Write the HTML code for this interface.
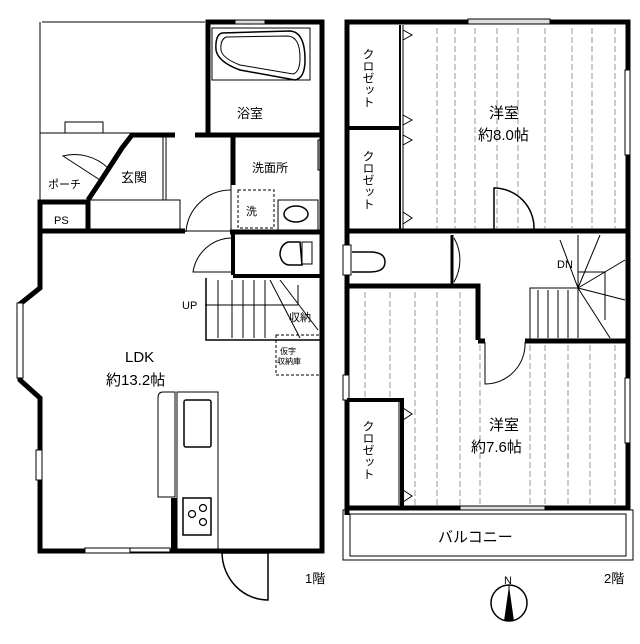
<!DOCTYPE html>
<html><head><meta charset="utf-8"><style>
html,body{margin:0;padding:0;background:#fff;}
svg{display:block;font-family:"Liberation Sans","Noto Sans CJK JP",sans-serif;}
</style></head><body>
<svg width="640" height="644" viewBox="0 0 640 644" xmlns="http://www.w3.org/2000/svg">
<rect width="640" height="644" fill="#fff"/>
<g stroke="#999" stroke-width="1" stroke-dasharray="6,3">
<line x1="437" y1="28" x2="437" y2="228"/><line x1="455" y1="28" x2="455" y2="228"/><line x1="475" y1="28" x2="475" y2="228"/>
<line x1="497" y1="28" x2="497" y2="228"/><line x1="518" y1="28" x2="518" y2="228"/><line x1="545" y1="28" x2="545" y2="228"/>
<line x1="572" y1="28" x2="572" y2="228"/><line x1="592" y1="28" x2="592" y2="228"/><line x1="615" y1="28" x2="615" y2="228"/>
<line x1="365" y1="292" x2="365" y2="400"/><line x1="390" y1="292" x2="390" y2="400"/><line x1="415" y1="292" x2="415" y2="505"/>
<line x1="437" y1="292" x2="437" y2="505"/><line x1="460" y1="292" x2="460" y2="505"/><line x1="480" y1="345" x2="480" y2="505"/>
<line x1="530" y1="345" x2="530" y2="505"/><line x1="545" y1="345" x2="545" y2="505"/><line x1="568" y1="345" x2="568" y2="505"/>
<line x1="590" y1="345" x2="590" y2="505"/><line x1="615" y1="345" x2="615" y2="505"/>
</g>
<g fill="none" stroke="#000">
<line x1="42" y1="22" x2="205" y2="22" stroke-width="1"/>
<line x1="40" y1="22" x2="40" y2="200" stroke-width="1"/>
<line x1="40" y1="133" x2="130" y2="133" stroke-width="1"/>
<rect x="65" y="122" width="38" height="11" stroke-width="1"/>
<path d="M208 135 V22 H235 M265 22 H322 V135" stroke-width="5"/>
<rect x="235" y="20" width="30" height="4" stroke-width="1" fill="#ddd"/>
<rect x="212" y="28" width="98" height="52" stroke-width="1"/>
<path d="M222 33 Q215 35 216 50 Q218 62 240 70 L295 80 Q305 78 305 60 Q305 32 290 31 Z" stroke-width="1.5"/>
<path d="M226 37 Q220 40 221 50 Q222 58 240 65 L293 74 Q300 72 300 58 Q300 37 288 36 Z" stroke-width="1"/>
<path d="M130 135 H175 M195 135 H320" stroke-width="5"/>
<line x1="272" y1="137" x2="318" y2="137" stroke-width="1"/>
<path d="M132 135 L122 148 L100 182 L88 200" stroke-width="5"/>
<path d="M108 168 A48 48 0 0 0 63 156 L100 180" stroke-width="1"/>
<path d="M40 232 V202 H88 V232" stroke-width="5"/>
<path d="M38 231 H185" stroke-width="5"/>
<path d="M185 231 H230" stroke-width="1"/>
<path d="M230 232 H322" stroke-width="5"/>
<line x1="163" y1="137" x2="163" y2="200" stroke-width="1"/>
<line x1="166" y1="137" x2="166" y2="200" stroke-width="1"/>
<path d="M90 200 H180 V230" stroke-width="1"/>
<line x1="233" y1="135" x2="233" y2="185" stroke-width="5"/>
<line x1="231" y1="185" x2="231" y2="232" stroke-width="1"/>
<path d="M231 190 A45 45 0 0 0 186 232" stroke-width="1"/>
<rect x="238" y="190" width="36" height="38" stroke-width="1" stroke-dasharray="3,2"/>
<rect x="278" y="200" width="40" height="30" stroke-width="1"/>
<ellipse cx="296" cy="214" rx="12" ry="8" stroke-width="1.5"/>
<rect x="318" y="140" width="6" height="30" stroke-width="1" fill="#ccc"/>
<line x1="233" y1="234" x2="233" y2="275" stroke-width="4"/>
<path d="M231 238 A40 40 0 0 0 193 272 H231" stroke-width="1"/>
<line x1="233" y1="276" x2="320" y2="276" stroke-width="4"/>
<path d="M300 242 H288 Q280 245 280 255 Q282 265 290 265 H302 Z" stroke-width="1.5"/>
<rect x="302" y="242" width="10" height="22" stroke-width="1"/>
<path d="M206 278 V340 H320" stroke-width="1.5"/>
<g stroke-width="1"><line x1="218" y1="280" x2="218" y2="338"/><line x1="232" y1="280" x2="232" y2="338"/><line x1="243" y1="280" x2="243" y2="338"/><line x1="254" y1="280" x2="254" y2="338"/><line x1="265" y1="280" x2="265" y2="338"/>
<line x1="270" y1="280" x2="300" y2="338"/><line x1="280" y1="280" x2="318" y2="330"/><line x1="205" y1="305" x2="298" y2="305"/><line x1="298" y1="305" x2="298" y2="285"/>
<rect x="276" y="335" width="44" height="40" stroke-dasharray="3,2"/></g>
<path d="M40 232 V288 L20 304 V380 L40 398 V551 H322 V135" stroke-width="5"/>
<rect x="17" y="303" width="6" height="75" stroke-width="1" fill="#fff"/>
<rect x="36" y="450" width="6" height="30" stroke-width="1" fill="#fff"/>
<rect x="85" y="548" width="45" height="5" stroke-width="1" fill="#fff"/>
<rect x="130" y="548" width="40" height="4" stroke-width="1" fill="#fff"/>
<path d="M175 392 H163 Q158 392 158 398 V497 H175 Z" stroke-width="1"/>
<rect x="177" y="392" width="41" height="158" stroke-width="1"/>
<rect x="184" y="400" width="27" height="47" rx="2" stroke-width="1.5"/>
<rect x="183" y="498" width="28" height="37" stroke-width="1.5"/>
<circle cx="192" cy="514" r="3.5" stroke-width="1.2"/><circle cx="203" cy="508" r="3.5" stroke-width="1.2"/><circle cx="203" cy="522" r="3.5" stroke-width="1.2"/>
<line x1="174" y1="498" x2="174" y2="551" stroke-width="6"/>
<path d="M268 553 V600 A46 48 0 0 1 222 553 M222 553 H268" stroke-width="1.5"/>

<path d="M347 515 V22 H468 M550 22 H628 V510" stroke-width="5"/>
<rect x="468" y="19" width="82" height="5" stroke-width="1" fill="#ddd"/>
<rect x="625" y="70" width="5" height="85" stroke-width="1" fill="#fff"/>
<rect x="625" y="378" width="5" height="65" stroke-width="1" fill="#fff"/>
<rect x="343" y="375" width="6" height="25" stroke-width="1" fill="#fff"/>
<line x1="349" y1="128" x2="400" y2="128" stroke-width="4"/>
<line x1="400" y1="25" x2="400" y2="230" stroke-width="2"/>
<line x1="403" y1="25" x2="403" y2="230" stroke-width="1"/>
<path d="M403 30 L412 35 L403 40 M403 115 L412 120 L403 125 M403 135 L412 140 L403 145 M403 212 L412 218 L403 224" stroke-width="1"/>
<line x1="345" y1="231" x2="628" y2="231" stroke-width="5"/>
<path d="M494 229 V188 A40 40 0 0 1 534 229" stroke-width="1.5"/>
<rect x="343" y="245" width="8" height="30" stroke-width="1" fill="#fff"/>
<path d="M352 252 H370 Q385 252 385 262 Q385 272 370 272 H352" stroke-width="1.5"/>
<path d="M349 286 H478 V340" stroke-width="5"/>
<line x1="452" y1="235" x2="452" y2="284" stroke-width="3"/>
<path d="M454 238 A44 44 0 0 1 454 282" stroke-width="1"/>
<path d="M530 340 V288 H578 V272 H605 V320" stroke-width="1"/>
<g stroke-width="1"><line x1="538" y1="290" x2="538" y2="338"/><line x1="548" y1="290" x2="548" y2="338"/><line x1="558" y1="290" x2="558" y2="338"/><line x1="568" y1="290" x2="568" y2="338"/>
<line x1="578" y1="288" x2="578" y2="338"/><line x1="578" y1="288" x2="625" y2="260"/><line x1="578" y1="288" x2="625" y2="300"/><line x1="578" y1="288" x2="610" y2="338"/><line x1="578" y1="288" x2="600" y2="235"/><line x1="578" y1="288" x2="560" y2="240"/><line x1="578" y1="288" x2="578" y2="235"/></g>
<path d="M478 341 H485 M525 341 H628" stroke-width="5"/>
<path d="M485 342 V384 A40 40 0 0 0 525 342" stroke-width="1"/>
<path d="M347 400 H402 V508" stroke-width="4"/>
<line x1="399" y1="402" x2="399" y2="505" stroke-width="1"/>
<path d="M403 408 L412 414 L403 420 M403 490 L412 496 L403 502" stroke-width="1"/>
<path d="M347 508 H460 M545 508 H628" stroke-width="5"/>
<rect x="460" y="506" width="85" height="4" stroke-width="1" fill="#ddd"/>
<rect x="343" y="510" width="290" height="50" stroke-width="1"/>
<rect x="350" y="514" width="276" height="42" stroke-width="1"/>
<circle cx="509" cy="603" r="18" stroke-width="1.5"/>
<line x1="509" y1="585" x2="509" y2="621" stroke-width="1"/>
</g>
<path d="M509 586 L514 621 H504 Z" fill="#000"/>
<g fill="#000" font-size="13">
<text x="237" y="118">浴室</text>
<text x="252" y="172" font-size="12">洗面所</text>
<text x="121" y="182">玄関</text>
<text x="48" y="188" font-size="11">ポーチ</text>
<text x="54" y="224" font-size="11">PS</text>
<text x="246" y="215" font-size="11">洗</text>
<text x="182" y="309" font-size="11">UP</text>
<text x="289" y="321" font-size="11">収納</text>
<text x="280" y="354" font-size="8">仮字</text>
<text x="277" y="364" font-size="8">収納庫</text>
<text x="125" y="362" font-size="15">LDK</text>
<text x="106" y="385" font-size="15">約13.2帖</text>
<text x="305" y="583" font-size="13">1階</text>
<text x="489" y="118" font-size="15">洋室</text>
<text x="478" y="140" font-size="15">約8.0帖</text>
<text x="489" y="430" font-size="15">洋室</text>
<text x="471" y="452" font-size="15">約7.6帖</text>
<text x="438" y="542" font-size="15">バルコニー</text>
<text x="604" y="583" font-size="13">2階</text>
<text x="504" y="584" font-size="11">N</text>
<text x="557" y="268" font-size="11">DN</text>
</g>
<g fill="#000" font-size="12">
<text x="368" y="48" writing-mode="tb">クロゼット</text>
<text x="368" y="150" writing-mode="tb">クロゼット</text>
<text x="368" y="420" writing-mode="tb">クロゼット</text>
</g>
</svg>
</body></html>
